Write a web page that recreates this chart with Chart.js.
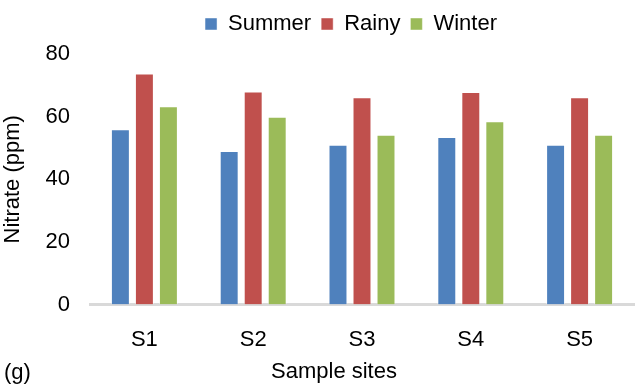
<!DOCTYPE html>
<html>
<head>
<meta charset="utf-8">
<script src="https://cdn.jsdelivr.net/npm/chart.js@4/dist/chart.umd.min.js"></script>
<style>
  html, body { margin: 0; padding: 0; background: #fff; }
  #wrap { width: 637px; height: 387px; }
</style>
</head>
<body>
<div id="wrap"><canvas id="c" width="637" height="387"></canvas></div>
<script>
const categories = ['S1', 'S2', 'S3', 'S4', 'S5'];
const seriesNames = ['Summer', 'Rainy', 'Winter'];
const summer = [56, 49, 51, 53.5, 51];
const rainy = [73.8, 68, 66.2, 67.9, 66.2];
const winter = [63.3, 60, 54.2, 58.5, 54.2];
const yTicks = [0, 20, 40, 60, 80];
const xTitle = 'Sample sites';
const yTitle = 'Nitrate (ppm)';
const panelLabel = '(g)';

const colors = ['#4F81BD', '#C0504D', '#9BBB59'];
const FONT = "'Liberation Sans', Arial, sans-serif";
const FS = 22;

const extraText = {
  id: 'extraText',
  afterLayout(chart) {
    const lg = chart.legend;
    if (lg) { lg.left += 34; lg.right += 34; lg.top -= 9; lg.bottom -= 9; }
  },
  afterDraw(chart) {
    const ctx = chart.ctx;
    ctx.save();
    ctx.fillStyle = '#000';
    ctx.font = FS + 'px ' + FONT;
    ctx.textBaseline = 'middle';
    ctx.textAlign = 'center';
    ctx.fillText(xTitle, 334, 372);
    ctx.textAlign = 'left';
    ctx.fillText(panelLabel, 4, 373);
    ctx.restore();
  }
};

new Chart(document.getElementById('c'), {
  type: 'bar',
  data: {
    labels: categories,
    datasets: [summer, rainy, winter].map((d, i) => ({
      label: seriesNames[i],
      data: d,
      backgroundColor: colors[i],
      borderColor: 'rgba(255,255,255,0.45)',
      borderWidth: 1,
      categoryPercentage: 0.662,
      barPercentage: 0.79
    }))
  },
  options: {
    responsive: false,
    animation: false,
    layout: { padding: { top: 12, right: 3, bottom: 12, left: 0 } },
    plugins: {
      legend: {
        position: 'top',
        labels: {
          font: { family: FONT, size: FS },
          color: '#000',
          boxWidth: 12,
          boxHeight: 12,
          padding: 10
        }
      },
      tooltip: { enabled: false }
    },
    scales: {
      x: {
        grid: { display: false, drawTicks: false },
        border: { display: true, color: '#d9d9d9', width: 3 },
        ticks: { font: { family: FONT, size: FS }, color: '#000', padding: 22 }
      },
      y: {
        min: 0, max: 80,
        afterFit(scale) { scale.width = 90; },
        afterBuildTicks(scale) { scale.ticks = yTicks.map(v => ({ value: v })); },
        grid: { display: false, drawTicks: false },
        border: { display: false },
        ticks: { font: { family: FONT, size: FS }, color: '#000', padding: 20 },
        title: {
          display: true,
          text: yTitle,
          font: { family: FONT, size: FS },
          color: '#000',
          padding: { top: 0, bottom: 0 }
        }
      }
    }
  },
  plugins: [extraText]
});
</script>
</body>
</html>
